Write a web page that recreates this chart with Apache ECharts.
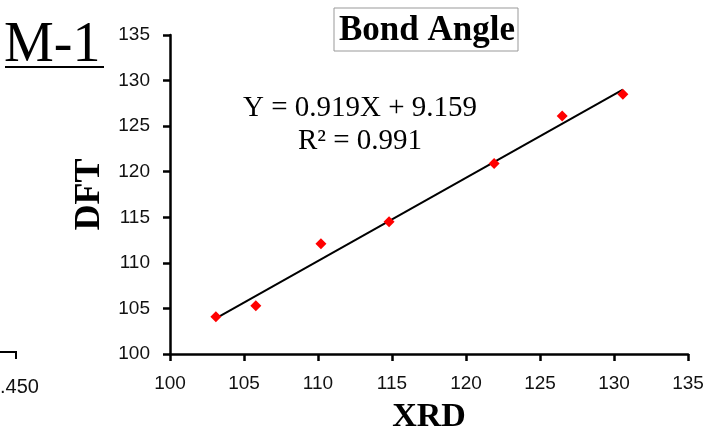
<!DOCTYPE html>
<html>
<head>
<meta charset="utf-8">
<script src="https://cdn.jsdelivr.net/npm/echarts@6/dist/echarts.min.js"></script>
<style>html,body{margin:0;padding:0;background:#fff}#c{width:719px;height:435px}</style>
</head>
<body>
<div id="c"></div>
<script>
// Data
var xrd = [103.1, 105.8, 110.2, 114.8, 121.9, 126.5, 130.6];
var dft = [104.1, 105.3, 112.1, 114.5, 120.9, 126.1, 128.5];
var trendX = [103.1, 130.6];
var trendY = [103.9, 129.0];
var xTicks = [100, 105, 110, 115, 120, 125, 130, 135];
var yTicks = [100, 105, 110, 115, 120, 125, 130, 135];
var titleText = 'Bond Angle';
var eqText = 'Y = 0.919X + 9.159';
var r2Text = 'R² = 0.991';
var panelLabel = 'M-1';
var leftFragmentLabel = '.450';

var points = xrd.map(function (x, i) { return [x, dft[i]]; });
var trend = trendX.map(function (x, i) { return [x, trendY[i]]; });

var chart = echarts.init(document.getElementById('c'), null, {renderer: 'canvas'});
var serif = '"Liberation Serif", "DejaVu Serif", serif';
var sans = '"Liberation Sans", Arial, sans-serif';

function axisCommon() {
  return {
    interval: 5,
    axisLine: {show: true, onZero: false, lineStyle: {color: '#000', width: 2.5}},
    axisTick: {show: true, inside: false, length: 7, lineStyle: {color: '#000', width: 2.5}},
    splitLine: {show: false},
    axisLabel: {color: '#111', fontFamily: sans, fontSize: 19, margin: 20}
  };
}

chart.setOption({
  animation: false,
  backgroundColor: '#fff',
  grid: {left: 170, right: 31, top: 35, bottom: 81, containLabel: false, outerBoundsMode: 'none'},
  xAxis: Object.assign(axisCommon(), {
    type: 'value',
    min: xTicks[0], max: xTicks[xTicks.length - 1],
    name: 'XRD', nameLocation: 'middle', nameGap: 46,
    nameTextStyle: {fontFamily: serif, fontWeight: 'bold', fontSize: 34, color: '#000'}
  }),
  yAxis: Object.assign(axisCommon(), {
    type: 'value',
    min: yTicks[0], max: yTicks[yTicks.length - 1],
    name: 'DFT', nameLocation: 'middle', nameGap: 48,
    nameTextStyle: {fontFamily: serif, fontWeight: 'bold', fontSize: 36, color: '#000'}
  }),
  series: [
    {
      type: 'line', data: trend, symbol: 'none', silent: true,
      lineStyle: {color: '#000', width: 2}, z: 2
    },
    {
      type: 'scatter', data: points, symbol: 'diamond', symbolSize: [11, 11],
      itemStyle: {color: '#ff0000', opacity: 1}, z: 3
    }
  ],
  graphic: [
    {type: 'rect', shape: {x: 334, y: 8, width: 184, height: 43},
     style: {fill: '#fff', stroke: '#999', lineWidth: 1}},
    {type: 'text', position: [427, 31], style: {text: titleText,
      font: 'bold 35px ' + serif, fill: '#000', textAlign: 'center', textVerticalAlign: 'middle'}},
    {type: 'text', position: [360, 123], style: {text: eqText, font: '29px ' + serif,
      fill: '#000', textAlign: 'center', textVerticalAlign: 'bottom'}},
    {type: 'text', position: [360, 156], style: {text: r2Text, font: '29px ' + serif,
      fill: '#000', textAlign: 'center', textVerticalAlign: 'bottom'}},
    {type: 'text', position: [4, 74], style: {text: panelLabel, font: '56px ' + serif,
      fill: '#000', textAlign: 'left', textVerticalAlign: 'bottom'}},
    {type: 'line', shape: {x1: 5, y1: 67, x2: 104, y2: 67}, style: {stroke: '#000', lineWidth: 2}},
    {type: 'polyline', shape: {points: [[0, 352], [16, 352], [16, 359]]},
     style: {stroke: '#000', lineWidth: 2, fill: null}},
    {type: 'text', position: [0, 387], style: {text: leftFragmentLabel, font: '20px ' + sans,
      fill: '#111', textAlign: 'left', textVerticalAlign: 'middle'}}
  ]
});
</script>
</body>
</html>
